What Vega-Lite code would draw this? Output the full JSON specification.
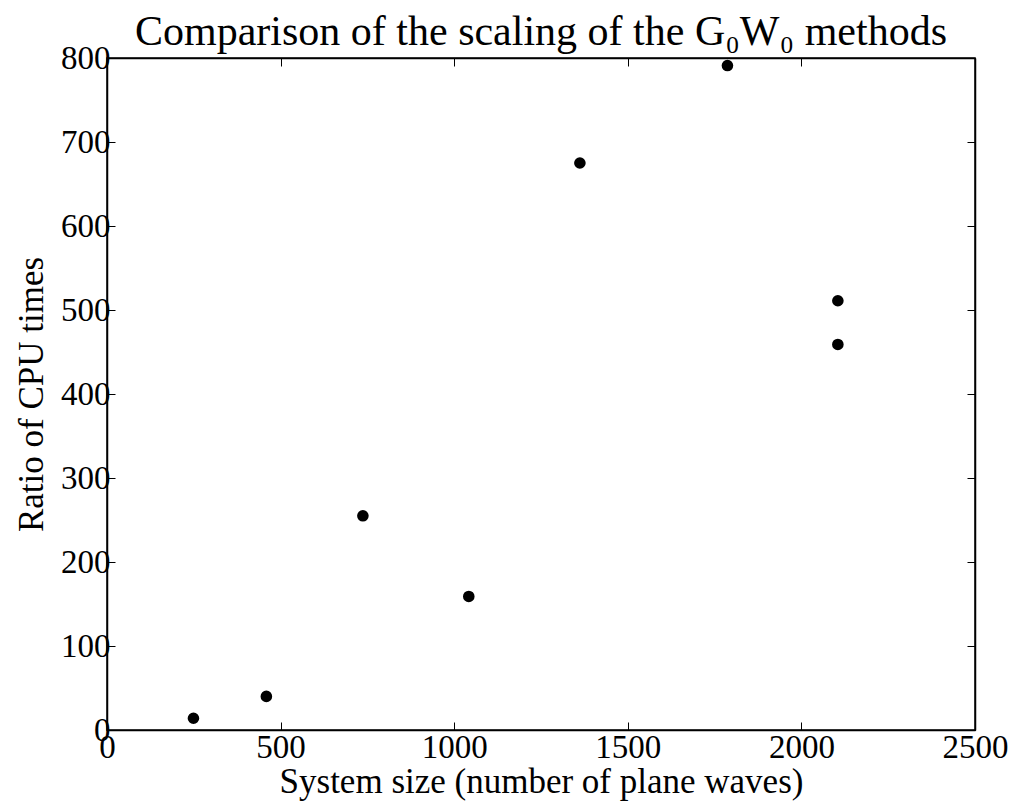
{
  "$schema": "https://vega.github.io/schema/vega-lite/v6.json",
  "autosize": "none",
  "width": 868,
  "height": 672,
  "padding": {"left": 107, "top": 58, "right": 38, "bottom": 71},
  "background": "white",
  "title": {
    "text": "Comparison of the scaling of the G₀W₀ methods",
    "font": "Liberation Serif",
    "fontSize": 42,
    "fontWeight": "normal",
    "color": "black",
    "anchor": "middle",
    "offset": -12
  },
  "config": {
    "view": {"stroke": "black", "strokeWidth": 1.5},
    "axis": {
      "grid": false,
      "domainColor": "black",
      "domainWidth": 1.5,
      "tickColor": "black",
      "tickWidth": 1,
      "tickSize": -8,
      "labelFont": "Liberation Serif",
      "labelFontSize": 33,
      "labelColor": "black",
      "titleFont": "Liberation Serif",
      "titleFontSize": 35,
      "titleFontWeight": "normal",
      "titleColor": "black"
    }
  },
  "data": {
    "values": [
      {"size": 249, "ratio": 14},
      {"size": 459, "ratio": 40},
      {"size": 737, "ratio": 255},
      {"size": 1042, "ratio": 159},
      {"size": 1362, "ratio": 675},
      {"size": 1787, "ratio": 791},
      {"size": 2105, "ratio": 511},
      {"size": 2105, "ratio": 459}
    ]
  },
  "layer": [
    {
      "mark": {"type": "circle", "color": "black", "opacity": 1, "size": 135},
      "encoding": {
        "x": {
          "field": "size", "type": "quantitative",
          "scale": {"domain": [0, 2500], "nice": false, "zero": false},
          "axis": {"orient": "bottom", "title": "System size (number of plane waves)", "values": [0, 500, 1000, 1500, 2000, 2500], "format": "d", "labelPadding": 9, "titlePadding": 0, "labelFlush": false}
        },
        "y": {
          "field": "ratio", "type": "quantitative",
          "scale": {"domain": [0, 800], "nice": false, "zero": false},
          "axis": {"orient": "left", "title": "Ratio of CPU times", "values": [0, 100, 200, 300, 400, 500, 600, 700, 800], "format": "d", "labelPadding": 5, "titlePadding": 11, "labelFlush": false}
        }
      }
    },
    {
      "mark": {"type": "circle", "opacity": 0},
      "encoding": {
        "x": {
          "field": "size", "type": "quantitative",
          "scale": {"domain": [0, 2500], "nice": false, "zero": false},
          "axis": {"orient": "top", "title": null, "labels": false, "values": [0, 500, 1000, 1500, 2000, 2500]}
        },
        "y": {
          "field": "ratio", "type": "quantitative",
          "scale": {"domain": [0, 800], "nice": false, "zero": false},
          "axis": {"orient": "right", "title": null, "labels": false, "values": [0, 100, 200, 300, 400, 500, 600, 700, 800]}
        }
      }
    }
  ]
}
